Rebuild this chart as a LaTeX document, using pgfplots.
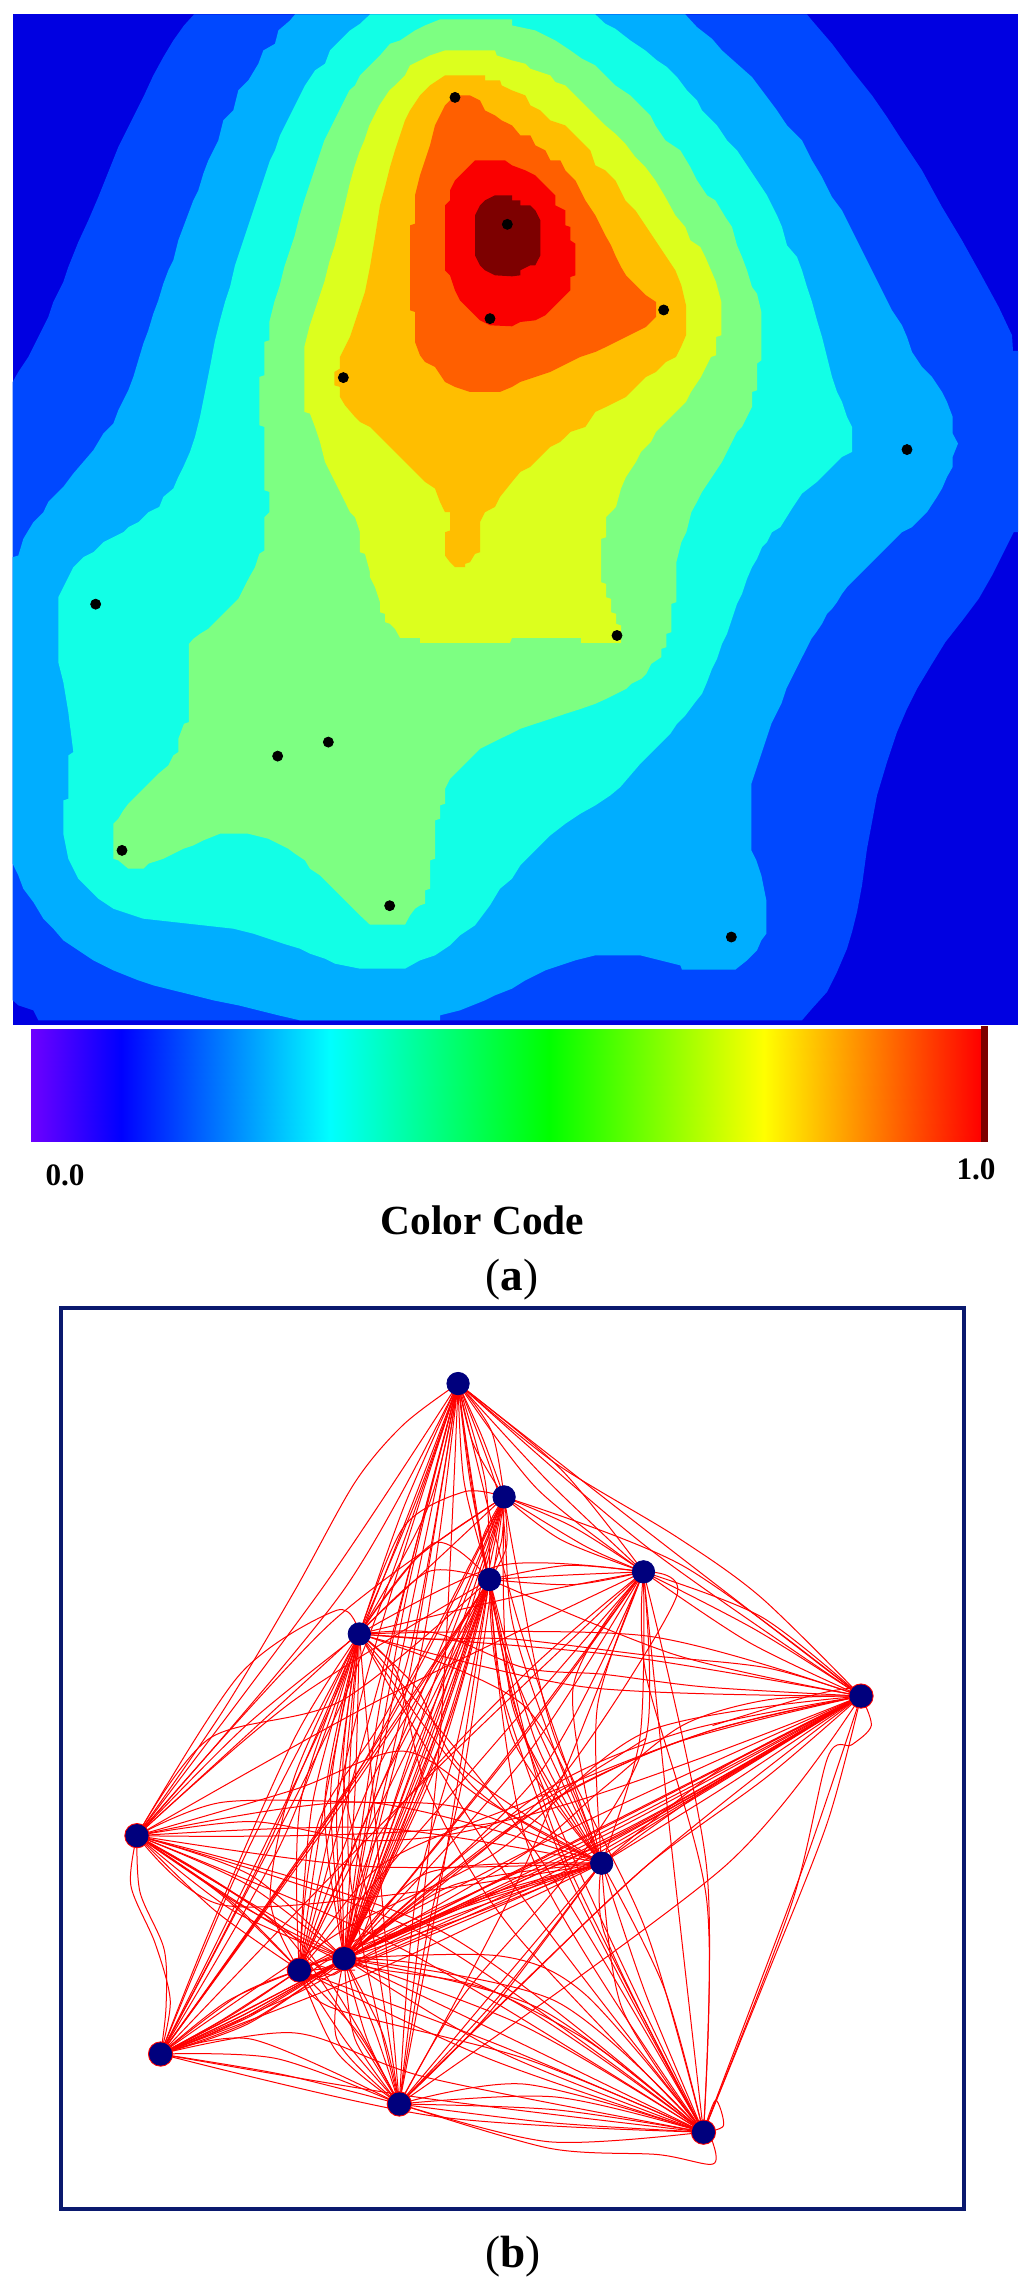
\documentclass[border=0pt]{standalone}
\usepackage{fontspec}
\setmainfont{Liberation Serif}
\usepackage{pgfplots}
\pgfplotsset{compat=1.18}
\definecolor{c0}{RGB}{0,0,225}
\definecolor{c1}{RGB}{0,72,255}
\definecolor{c2}{RGB}{0,174,255}
\definecolor{c3}{RGB}{18,255,230}
\definecolor{c4}{RGB}{125,255,130}
\definecolor{c5}{RGB}{220,255,30}
\definecolor{c6}{RGB}{255,190,0}
\definecolor{c7}{RGB}{255,95,0}
\definecolor{c8}{RGB}{250,0,0}
\definecolor{c9}{RGB}{125,0,0}
\definecolor{frame}{RGB}{10,25,110}
\definecolor{node}{RGB}{0,0,125}
\newcommand\lk[1]{\addplot[red,line width=0.5pt,smooth] coordinates {#1};}
\newcommand\lv[1]{\addplot[fill=#1,draw=none]}
\pgfplotsset{panel/.style={scale only axis,ticks=none,clip=true,enlargelimits=false}}
\begin{document}
\begin{tikzpicture}
\path[use as bounding box] (0,0) rectangle (512pt,1147pt);
% (a) contour map, one unit is a third of a pixel
\begin{axis}[panel,anchor=south west,at={(6.33pt,634.67pt)},width=502.67pt,height=505.1pt,
  xmin=38,xmax=3054,ymin=42,ymax=3074,y dir=reverse,axis line style={draw=none}]
\lv{c0} coordinates {(38,42)(3054,42)(3054,3074)(38,3074)} -- cycle;
\lv{c1} coordinates {(38,1145)(55,1115)(85,1070)(115,1010)(145,950)(160,905)(190,845)(205,800)(235,725)(265,660)(295,590)(325,515)(355,440)(385,380)(430,290)(460,225)(490,170)(520,120)(552,75)(582,42)
(2421,42)(2436,60)(2496,130)(2556,210)(2616,285)(2661,350)(2706,420)(2766,510)(2826,620)(2886,720)(2936,810)(2996,920)(3036,1005)(3039,1052)(3054,1052)
(3054,1596)(3041,1596)(3011,1656)(2976,1726)(2936,1796)(2891,1856)(2836,1926)(2796,1991)(2751,2066)(2721,2126)(2691,2196)(2661,2286)(2646,2336)(2631,2386)(2616,2466)(2601,2546)(2586,2656)(2571,2736)(2556,2796)(2541,2846)(2511,2916)(2481,2976)(2436,3026)(2406,3061)
(115,3061)(100,3031)(55,3016)(38,3001)} -- cycle;
\lv{c2} coordinates {(885,42)(870,60)(835,90)(825,130)(790,150)(775,190)(745,240)(715,270)(700,330)(670,360)(655,420)(625,480)(610,520)(595,570)(580,600)(565,640)(550,680)(535,720)(520,780)(505,810)(490,850)(475,900)(460,940)(445,990)(430,1030)(415,1080)(400,1130)(385,1170)(370,1200)(355,1230)(340,1270)(310,1300)(280,1350)(250,1385)(220,1420)(190,1460)(145,1505)
(130,1536)(100,1566)(70,1616)(55,1666)(38,1671)(38,2591)(55,2626)(70,2666)(100,2706)(130,2756)(160,2786)(190,2821)(235,2851)(280,2881)(340,2911)(415,2941)(460,2956)(520,2971)(580,2986)(640,3001)(715,3016)(775,3031)(835,3046)(900,3061)(1320,3061)(1320,3046)(1380,3031)(1455,3001)(1485,2986)
(1536,2966)(1576,2941)(1606,2926)(1636,2911)(1681,2896)(1726,2881)(1786,2866)(1921,2866)(1981,2881)(2041,2896)(2046,2909)(2206,2909)(2241,2881)(2271,2851)(2284,2821)(2299,2801)(2299,2701)(2284,2626)(2269,2581)(2254,2551)(2254,2351)(2269,2306)(2284,2261)(2299,2216)(2314,2171)(2329,2141)(2344,2111)(2359,2066)(2374,2036)(2389,2006)(2404,1976)(2419,1946)(2434,1916)(2449,1896)(2466,1871)(2481,1841)(2496,1826)(2511,1806)(2526,1781)(2541,1761)(2571,1731)(2601,1701)(2631,1671)(2661,1641)(2691,1611)(2706,1596)(2736,1581)(2766,1551)
(2781,1536)(2811,1490)(2826,1465)(2841,1430)(2858,1400)(2858,1370)(2874,1330)(2858,1300)(2858,1250)(2841,1205)(2826,1175)(2796,1130)(2766,1100)(2736,1055)(2721,1010)(2706,975)(2676,930)(2646,870)(2616,810)(2586,750)(2556,690)(2526,630)(2496,590)(2466,530)(2436,480)(2406,420)(2361,375)(2331,330)(2286,270)(2256,230)(2211,190)(2166,150)(2136,115)(2091,80)(2056,42)} -- cycle;
\lv{c3} coordinates {(1110,42)(1080,70)(1050,90)(1020,120)(990,150)(975,190)(945,210)(915,255)(900,285)(885,315)(870,345)(855,375)(840,405)(825,450)(810,480)(795,525)(780,570)(765,615)(750,660)(735,705)(720,750)(705,795)(690,860)(675,905)(660,960)(645,1020)(630,1100)(615,1175)(600,1250)(585,1310)(570,1355)(550,1400)(535,1430)(520,1465)(490,1490)(478,1520)
(445,1536)(415,1566)(385,1581)(370,1596)(340,1611)(310,1626)(295,1641)(280,1656)(250,1671)(235,1686)(220,1701)(205,1731)(190,1761)(175,1791)(175,1986)(190,2046)(205,2136)(220,2256)(205,2266)(205,2396)(190,2401)(190,2501)(205,2576)(220,2606)(235,2636)(265,2666)(295,2696)(340,2726)(385,2741)(430,2756)(565,2771)(700,2786)(760,2801)(805,2816)(850,2831)(900,2846)(930,2861)(975,2876)(1005,2891)(1080,2906)(1215,2906)(1260,2881)(1305,2866)(1350,2836)(1380,2806)(1425,2776)(1470,2716)(1500,2666)
(1536,2636)(1561,2596)(1591,2566)(1621,2536)(1651,2506)(1696,2471)(1741,2441)(1786,2416)(1831,2386)(1861,2361)(1891,2326)(1921,2291)(1951,2261)(1981,2231)(2011,2201)(2031,2171)(2056,2146)(2086,2106)(2106,2081)(2121,2046)(2136,2006)(2151,1976)(2166,1931)(2181,1901)(2196,1856)(2211,1811)(2226,1781)(2241,1736)(2256,1701)(2271,1676)(2286,1641)(2301,1626)(2316,1596)(2341,1581)
(2376,1525)(2406,1480)(2451,1445)(2496,1400)(2526,1370)(2556,1355)(2556,1280)(2541,1250)(2526,1205)(2511,1175)(2496,1130)(2481,1070)(2466,1010)(2451,960)(2436,905)(2421,860)(2406,810)(2391,770)(2361,735)(2346,680)(2331,645)(2316,615)(2301,585)(2271,540)(2241,495)(2211,450)(2181,420)(2151,375)(2106,330)(2091,300)(2061,270)(2031,230)(2001,200)(1971,180)(1936,150)(1891,120)(1846,85)(1816,70)(1786,42)} -- cycle;
\lv{c4} coordinates {(1320,57)(1536,57)(1536,75)(1606,90)(1666,120)(1711,150)(1746,175)(1786,195)(1816,225)(1846,255)(1891,285)(1921,315)(1951,345)(1966,375)(1996,420)(2041,450)(2071,500)(2091,540)(2121,585)(2146,600)(2176,650)(2196,680)(2211,735)(2226,770)(2241,810)(2256,860)(2271,880)(2284,935)(2284,1080)(2271,1090)(2271,1170)(2256,1175)(2256,1220)(2241,1250)(2226,1280)(2211,1295)(2196,1325)(2166,1385)(2136,1430)(2106,1475)(2091,1505)
(2074,1536)(2059,1596)(2044,1626)(2029,1686)(2029,1806)(2014,1811)(2014,1896)(1999,1901)(1999,1941)(1984,1946)(1984,1971)(1954,1991)(1939,2021)(1924,2036)(1894,2051)(1879,2066)(1849,2081)(1819,2096)(1786,2111)(1743,2126)(1696,2141)(1652,2156)(1606,2171)(1561,2186)(1536,2199)
(1500,2216)(1470,2231)(1440,2246)(1425,2261)(1410,2276)(1395,2291)(1380,2306)(1365,2321)(1350,2336)(1335,2366)(1335,2411)(1320,2416)(1320,2456)(1305,2461)(1305,2576)(1290,2581)(1290,2666)(1275,2671)(1275,2711)(1260,2716)(1245,2726)(1230,2746)(1215,2774)(1110,2774)(1080,2746)(1050,2716)(1020,2686)(990,2656)(960,2626)(930,2606)(915,2581)(885,2561)(865,2546)(835,2531)(805,2516)(745,2501)(660,2501)(610,2521)(580,2536)(550,2546)(520,2561)(490,2576)(445,2591)(430,2606)(385,2606)(355,2581)(340,2576)(340,2471)(355,2456)(370,2431)(385,2411)(400,2396)(430,2366)(445,2351)(475,2321)(505,2296)(520,2266)(535,2256)(535,2216)(552,2171)(567,2166)(567,1931)(580,1916)(600,1901)(625,1886)(655,1856)(685,1826)(715,1796)(730,1766)(748,1731)(765,1701)(778,1661)(793,1651)(793,1551)(808,1536)
(808,1475)(793,1470)(793,1280)(778,1275)(778,1130)(793,1125)(793,1025)(808,1020)(808,965)(823,905)(838,860)(853,800)(868,755)(883,710)(898,650)(913,600)(928,555)(943,510)(958,465)(973,420)(988,390)(1003,360)(1018,330)(1033,300)(1048,270)(1065,255)(1080,225)(1095,210)(1125,180)(1140,165)(1170,130)(1200,120)(1245,90)(1275,75)} -- cycle;
\lv{c5} coordinates {(1335,150)(1485,150)(1490,165)(1536,180)(1576,190)(1591,205)(1651,225)(1666,245)(1696,255)(1726,285)(1756,315)(1786,345)(1816,375)(1846,400)(1876,430)(1906,470)(1936,500)(1966,540)(1996,590)(2026,645)(2056,680)(2071,720)(2101,740)(2116,770)(2133,810)(2148,845)(2164,905)(2164,1005)(2148,1010)(2148,1065)(2133,1070)(2118,1100)(2103,1130)(2073,1175)(2058,1205)(2028,1235)(1998,1265)(1968,1295)(1953,1325)(1923,1355)(1908,1385)(1878,1430)(1863,1465)(1848,1520)
(1833,1536)(1818,1551)(1818,1611)(1803,1616)(1803,1746)(1818,1751)(1818,1791)(1833,1796)(1833,1836)(1848,1841)(1848,1871)(1863,1876)(1863,1928)(1743,1928)(1743,1913)(1536,1913)(1530,1928)(1260,1928)(1260,1913)(1200,1913)(1185,1886)(1170,1871)(1155,1866)(1155,1841)(1140,1836)(1140,1806)(1125,1761)(1110,1731)(1110,1716)(1095,1661)(1080,1656)(1080,1596)(1065,1551)(1050,1536)
(1035,1505)(1020,1475)(1005,1445)(990,1415)(975,1385)(960,1325)(945,1280)(930,1240)(913,1235)(913,1040)(928,980)(943,935)(958,890)(973,845)(988,785)(1003,740)(1018,680)(1033,620)(1048,555)(1063,500)(1078,455)(1093,420)(1108,375)(1123,345)(1138,315)(1168,270)(1185,255)(1215,225)(1230,195)(1260,180)(1290,165)} -- cycle;
\lv{c6} coordinates {(1335,225)(1455,225)(1455,240)(1500,240)(1505,255)(1536,270)(1576,285)(1591,315)(1621,330)(1651,360)(1696,375)(1711,390)(1741,420)(1771,450)(1786,495)(1816,510)(1846,540)(1861,570)(1876,600)(1906,630)(1936,675)(1966,720)(1996,765)(2026,810)(2044,855)(2058,915)(2058,1005)(2043,1040)(2028,1070)(1998,1085)(1968,1115)(1938,1130)(1908,1160)(1878,1190)(1848,1205)(1818,1220)(1786,1235)(1756,1280)(1711,1295)(1681,1325)(1651,1340)(1621,1370)(1591,1400)(1561,1415)(1536,1445)(1500,1490)(1485,1520)
(1455,1536)(1440,1566)(1440,1656)(1425,1661)(1410,1686)(1395,1691)(1395,1701)(1365,1701)(1350,1686)(1335,1666)(1335,1596)(1350,1591)(1350,1536)
(1335,1536)(1320,1505)(1305,1465)(1275,1445)(1245,1415)(1215,1385)(1185,1355)(1155,1325)(1125,1295)(1110,1280)(1080,1265)(1065,1250)(1035,1215)(1020,1190)(1020,1160)(1003,1155)(1003,1115)(1020,1105)(1020,1070)(1035,1040)(1050,1010)(1065,965)(1080,920)(1095,875)(1110,800)(1125,710)(1140,615)(1155,560)(1170,500)(1185,450)(1200,405)(1215,360)(1230,330)(1260,285)(1290,255)} -- cycle;
\lv{c7} coordinates {(1365,285)(1410,285)(1440,300)(1455,330)(1485,345)(1505,360)(1536,375)(1561,405)(1591,405)(1606,435)(1636,450)(1651,480)(1681,480)(1696,510)(1726,540)(1741,570)(1756,600)(1786,645)(1801,675)(1816,705)(1833,735)(1848,770)(1863,800)(1878,825)(1908,855)(1938,885)(1968,905)(1968,950)(1938,980)(1908,995)(1878,1010)(1848,1025)(1818,1040)(1786,1055)(1741,1070)(1711,1085)(1681,1100)(1651,1115)(1606,1130)(1561,1145)(1536,1160)(1500,1175)(1410,1175)(1365,1160)(1335,1145)(1305,1100)(1275,1085)(1260,1065)(1245,1025)(1245,935)(1230,930)(1230,675)(1245,670)(1245,585)(1260,525)(1275,480)(1290,435)(1305,375)(1320,345)(1335,315)} -- cycle;
\lv{c8} coordinates {(1425,480)(1515,480)(1536,495)(1576,510)(1606,525)(1636,555)(1666,585)(1666,615)(1696,630)(1696,675)(1711,680)(1711,720)(1726,730)(1726,825)(1711,830)(1711,870)(1696,885)(1666,915)(1636,945)(1606,960)(1561,965)(1536,978)(1470,975)(1440,960)(1410,930)(1380,900)(1365,870)(1350,825)(1335,810)(1335,615)(1350,600)(1350,570)(1365,540)(1395,510)} -- cycle;
\lv{c9} coordinates {(1485,585)(1536,585)(1536,600)(1561,600)(1561,615)(1591,615)(1606,630)(1621,660)(1621,765)(1606,795)(1591,795)(1561,810)(1561,825)(1536,828)(1485,825)(1455,810)(1440,795)(1425,765)(1425,645)(1440,615)(1455,600)} -- cycle;
\addplot[only marks,mark=*,mark size=2.5pt,black] coordinates {(1365,291)(1470,955)(1030,1132)(1522,672)(1991,929)(2721,1348)(287,1812)(833,2268)(985,2226)(366,2551)(1169,2717)(1851,1906)(2194,2811)};
\end{axis}
% colour scale
\begin{axis}[panel,anchor=south west,at={(15.35pt,576pt)},width=478.65pt,height=56.5pt,
  xmin=47,xmax=1513,ymin=0,ymax=1,axis line style={draw=none},clip=false,
  colormap={ccode}{rgb255=(110,0,255) rgb255=(0,0,255) rgb255=(0,255,255) rgb255=(0,255,0) rgb255=(255,255,0) rgb255=(255,0,0)},
  point meta min=0,point meta max=5]
\addplot[surf,shader=interp,mesh/rows=2,point meta=\thisrow{c}] table {
x y c
47 0 0
185 0 1
505 0 2
840 0 3
1170 0 4
1503 0 5
47 1 0
185 1 1
505 1 2
840 1 3
1170 1 4
1503 1 5
};
\addplot[fill=c9,draw=none] coordinates {(1503,0)(1513,0)(1513,1.03)(1503,1.03)} -- cycle;
\end{axis}
\node[font=\bfseries\fontsize{15.6}{16}\selectfont] at (32.5pt,559.5pt) {0.0};
\node[font=\bfseries\fontsize{15.6}{16}\selectfont] at (488pt,562.5pt) {1.0};
\node[font=\bfseries\fontsize{20.7}{22}\selectfont] at (241.3pt,537pt) {Color Code};
\node[font=\fontsize{22.6}{24}\selectfont] at (256pt,507pt) {(\textbf{a})};
\node[font=\fontsize{22.6}{24}\selectfont] at (256.5pt,18.5pt) {(\textbf{b})};
% (b) trajectories
\begin{axis}[panel,anchor=south west,at={(30.6pt,42.5pt)},width=451.4pt,height=450.5pt,
  xmin=35,xmax=1525,ymin=28,ymax=1435,y dir=reverse,
  axis line style={draw=frame,line width=2pt}]
\lk{(690,146)(600,210)(520,300)(420,470)(300,660)(160,852)}
\lk{(690,146)(470,460)(160,852)}
\lk{(690,146)(500,470)(160,852)}
\lk{(690,146)(620,330)(527,537)}
\lk{(690,146)(600,340)(527,537)}
\lk{(690,146)(640,340)(527,537)}
\lk{(690,146)(600,500)(502,1044)}
\lk{(690,146)(590,600)(502,1044)}
\lk{(690,146)(610,600)(502,1044)}
\lk{(690,146)(570,600)(502,1044)}
\lk{(690,146)(630,560)(502,1044)}
\lk{(690,146)(575,560)(428,1062)}
\lk{(690,146)(540,600)(428,1062)}
\lk{(690,146)(480,650)(199,1193)}
\lk{(690,146)(500,640)(199,1193)}
\lk{(690,146)(730,230)(766,323)}
\lk{(690,146)(745,220)(766,323)}
\lk{(690,146)(715,240)(766,323)}
\lk{(690,146)(710,300)(742,452)}
\lk{(690,146)(735,300)(742,452)}
\lk{(690,146)(700,300)(742,452)}
\lk{(690,146)(840,300)(996,440)}
\lk{(690,146)(860,280)(996,440)}
\lk{(690,146)(820,310)(996,440)}
\lk{(690,146)(850,270)(1050,385)(1190,480)(1355,634)}
\lk{(690,146)(1020,390)(1355,634)}
\lk{(690,146)(1000,400)(1355,634)}
\lk{(690,146)(790,520)(927,895)}
\lk{(690,146)(760,540)(927,895)}
\lk{(690,146)(800,700)(1095,1315)}
\lk{(690,146)(660,700)(593,1271)}
\lk{(527,537)(600,370)(700,315)(766,323)}
\lk{(766,323)(620,420)(527,537)}
\lk{(766,323)(880,370)(996,440)}
\lk{(766,323)(900,400)(996,440)}
\lk{(766,323)(860,390)(996,440)}
\lk{(766,323)(770,400)(742,452)}
\lk{(766,323)(730,390)(742,452)}
\lk{(766,323)(762,390)(742,452)}
\lk{(766,323)(660,650)(502,1044)}
\lk{(766,323)(670,650)(502,1044)}
\lk{(766,323)(650,650)(502,1044)}
\lk{(766,323)(640,640)(502,1044)}
\lk{(766,323)(680,660)(502,1044)}
\lk{(766,323)(620,650)(428,1062)}
\lk{(766,323)(480,520)(160,852)}
\lk{(766,323)(520,540)(160,852)}
\lk{(766,323)(1060,430)(1355,634)}
\lk{(766,323)(780,650)(927,895)}
\lk{(766,323)(560,700)(199,1193)}
\lk{(766,323)(520,760)(199,1193)}
\lk{(742,452)(640,440)(527,537)}
\lk{(742,452)(650,395)(527,537)}
\lk{(742,452)(870,445)(996,440)}
\lk{(742,452)(870,430)(996,440)}
\lk{(742,452)(880,460)(996,440)}
\lk{(742,452)(625,750)(502,1044)}
\lk{(742,452)(635,750)(502,1044)}
\lk{(742,452)(615,750)(502,1044)}
\lk{(742,452)(645,750)(502,1044)}
\lk{(742,452)(605,750)(502,1044)}
\lk{(742,452)(655,740)(502,1044)}
\lk{(742,452)(625,770)(520,1040)}
\lk{(742,452)(590,750)(428,1062)}
\lk{(742,452)(570,760)(428,1062)}
\lk{(742,452)(550,760)(428,1062)}
\lk{(742,452)(480,820)(199,1193)}
\lk{(742,452)(500,800)(199,1193)}
\lk{(742,452)(670,880)(593,1271)}
\lk{(742,452)(780,700)(927,895)}
\lk{(742,452)(820,710)(927,895)}
\lk{(742,452)(850,850)(1095,1315)}
\lk{(742,452)(810,880)(1095,1315)}
\lk{(742,452)(420,640)(160,852)}
\lk{(742,452)(1050,570)(1355,634)}
\lk{(996,440)(760,430)(527,537)}
\lk{(996,440)(780,480)(527,537)}
\lk{(996,440)(1180,530)(1355,634)}
\lk{(996,440)(1190,510)(1355,634)}
\lk{(996,440)(1170,550)(1355,634)}
\lk{(996,440)(990,700)(927,895)}
\lk{(996,440)(920,650)(927,895)}
\lk{(996,440)(880,620)(927,895)}
\lk{(996,440)(780,720)(502,1044)}
\lk{(996,440)(800,730)(502,1044)}
\lk{(996,440)(760,740)(502,1044)}
\lk{(996,440)(820,760)(502,1044)}
\lk{(996,440)(740,720)(428,1062)}
\lk{(996,440)(1100,900)(1095,1315)}
\lk{(996,440)(1040,850)(1095,1315)}
\lk{(996,440)(620,780)(199,1193)}
\lk{(996,440)(560,640)(160,852)}
\lk{(996,440)(800,900)(593,1271)}
\lk{(527,537)(950,570)(1355,634)}
\lk{(527,537)(900,620)(1355,634)}
\lk{(527,537)(1000,540)(1355,634)}
\lk{(527,537)(800,650)(927,895)}
\lk{(527,537)(720,780)(927,895)}
\lk{(160,852)(330,600)(490,500)(527,537)}
\lk{(160,852)(340,680)(527,537)}
\lk{(527,537)(490,800)(502,1044)}
\lk{(527,537)(500,800)(502,1044)}
\lk{(527,537)(470,800)(502,1044)}
\lk{(527,537)(520,780)(502,1044)}
\lk{(527,537)(480,780)(502,1044)}
\lk{(527,537)(450,800)(428,1062)}
\lk{(527,537)(470,800)(428,1062)}
\lk{(527,537)(430,800)(428,1062)}
\lk{(527,537)(340,880)(199,1193)}
\lk{(527,537)(370,880)(199,1193)}
\lk{(527,537)(400,860)(199,1193)}
\lk{(527,537)(510,900)(593,1271)}
\lk{(527,537)(560,900)(593,1271)}
\lk{(527,537)(760,900)(1095,1315)}
\lk{(527,537)(820,880)(1095,1315)}
\lk{(1355,634)(1130,760)(927,895)}
\lk{(1355,634)(1140,770)(927,895)}
\lk{(1355,634)(1120,750)(927,895)}
\lk{(1355,634)(950,830)(502,1044)}
\lk{(1355,634)(945,845)(502,1044)}
\lk{(1355,634)(960,850)(502,1044)}
\lk{(1355,634)(935,860)(502,1044)}
\lk{(1355,634)(970,840)(502,1044)}
\lk{(1355,634)(1100,690)(840,800)(502,1044)}
\lk{(1355,634)(1060,690)(820,790)(502,1044)}
\lk{(1355,634)(1040,710)(790,830)(502,1044)}
\lk{(1355,634)(900,830)(428,1062)}
\lk{(1355,634)(900,860)(428,1062)}
\lk{(1355,634)(760,830)(160,852)}
\lk{(1355,634)(800,900)(199,1193)}
\lk{(1355,634)(1000,900)(593,1271)}
\lk{(1355,634)(1130,900)(593,1271)}
\lk{(1355,634)(1300,830)(1200,1070)(1095,1315)}
\lk{(1355,634)(1260,900)(1095,1315)}
\lk{(1355,634)(1372,680)(1340,710)(1300,730)(1240,960)(1095,1315)}
\lk{(160,852)(540,800)(927,895)}
\lk{(160,852)(560,840)(927,895)}
\lk{(160,852)(540,900)(927,895)}
\lk{(160,852)(330,960)(502,1044)}
\lk{(160,852)(335,950)(502,1044)}
\lk{(160,852)(320,970)(502,1044)}
\lk{(160,852)(345,930)(502,1044)}
\lk{(160,852)(350,915)(502,1044)}
\lk{(160,852)(310,950)(428,1062)}
\lk{(160,852)(290,970)(428,1062)}
\lk{(160,852)(300,945)(428,1062)}
\lk{(160,852)(150,930)(190,1020)(215,1110)(199,1193)}
\lk{(160,852)(165,940)(205,1030)(208,1120)(199,1193)}
\lk{(160,852)(400,1000)(593,1271)}
\lk{(160,852)(430,1020)(593,1271)}
\lk{(160,852)(620,1000)(1095,1315)}
\lk{(160,852)(600,1030)(1095,1315)}
\lk{(160,852)(660,1000)(1095,1315)}
\lk{(927,895)(700,960)(502,1044)}
\lk{(927,895)(720,950)(502,1044)}
\lk{(927,895)(700,980)(502,1044)}
\lk{(927,895)(680,930)(502,1044)}
\lk{(927,895)(640,910)(502,1044)}
\lk{(927,895)(680,970)(428,1062)}
\lk{(927,895)(560,1060)(199,1193)}
\lk{(927,895)(760,1100)(593,1271)}
\lk{(927,895)(780,1060)(593,1271)}
\lk{(927,895)(740,1130)(593,1271)}
\lk{(927,895)(1000,1100)(1095,1315)}
\lk{(927,895)(960,1120)(1095,1315)}
\lk{(927,895)(1030,1090)(1095,1315)}
\lk{(502,1044)(465,1048)(428,1062)}
\lk{(502,1044)(465,1060)(428,1062)}
\lk{(502,1044)(465,1072)(428,1062)}
\lk{(502,1044)(340,1130)(199,1193)}
\lk{(502,1044)(350,1125)(199,1193)}
\lk{(502,1044)(330,1140)(199,1193)}
\lk{(502,1044)(360,1115)(199,1193)}
\lk{(502,1044)(345,1145)(199,1193)}
\lk{(428,1062)(310,1110)(199,1193)}
\lk{(428,1062)(320,1130)(199,1193)}
\lk{(428,1062)(300,1140)(199,1193)}
\lk{(428,1062)(330,1100)(199,1193)}
\lk{(502,1044)(540,1170)(593,1271)}
\lk{(502,1044)(565,1160)(593,1271)}
\lk{(502,1044)(520,1170)(593,1271)}
\lk{(502,1044)(550,1150)(593,1271)}
\lk{(502,1044)(490,1170)(593,1271)}
\lk{(428,1062)(510,1180)(593,1271)}
\lk{(428,1062)(525,1160)(593,1271)}
\lk{(428,1062)(490,1190)(593,1271)}
\lk{(502,1044)(800,1150)(1095,1315)}
\lk{(502,1044)(820,1120)(1095,1315)}
\lk{(502,1044)(780,1170)(1095,1315)}
\lk{(502,1044)(760,1190)(1095,1315)}
\lk{(502,1044)(850,1110)(1095,1315)}
\lk{(428,1062)(760,1180)(1095,1315)}
\lk{(428,1062)(740,1200)(1095,1315)}
\lk{(199,1193)(350,1170)(593,1271)}
\lk{(199,1193)(400,1225)(593,1271)}
\lk{(199,1193)(390,1200)(593,1271)}
\lk{(199,1193)(650,1290)(1095,1315)}
\lk{(199,1193)(620,1260)(1095,1315)}
\lk{(199,1193)(420,1160)(640,1230)(1095,1315)}
\lk{(593,1271)(840,1300)(1095,1315)}
\lk{(593,1271)(850,1260)(1095,1315)}
\lk{(593,1271)(850,1280)(1095,1315)}
\lk{(593,1271)(840,1330)(1095,1315)}
\lk{(593,1271)(800,1240)(1095,1315)}
\lk{(593,1271)(840,1340)(1020,1350)(1110,1365)(1110,1330)(1095,1315)}
\lk{(1095,1315)(1128,1305)(1115,1265)(1095,1315)}
% more bent ones
\lk{(527,537)(650,535)(800,590)(930,600)(1100,620)(1355,634)}
\lk{(527,537)(640,545)(780,545)(1000,570)(1200,590)(1355,634)}
\lk{(742,452)(780,640)(840,780)(927,895)}
\lk{(996,440)(1000,600)(1100,950)(1095,1315)}
\lk{(502,1044)(560,850)(800,600)(996,440)}
\lk{(527,537)(620,620)(700,750)(927,895)}
\lk{(160,852)(300,800)(540,800)(700,810)(927,895)}
\lk{(160,852)(280,700)(500,640)(742,452)}
\lk{(160,852)(350,830)(550,860)(760,830)(1000,700)}
\lk{(199,1193)(280,1000)(420,700)(527,537)}
\lk{(927,895)(930,1000)(1030,1200)(1095,1315)}
\lk{(428,1062)(560,900)(800,800)(1100,690)(1355,634)}
\lk{(502,1044)(700,900)(870,750)(1050,480)(996,440)}
\lk{(527,537)(590,600)(640,780)(780,1000)(1095,1315)}
\lk{(766,323)(790,450)(850,700)(1000,1000)(1095,1315)}
\lk{(742,452)(760,620)(880,930)(1095,1315)}
\lk{(690,146)(760,330)(780,520)(850,720)(927,895)}
\lk{(199,1193)(500,1000)(750,880)(1000,690)(1355,634)}
\lk{(593,1271)(700,1100)(880,900)(1000,700)(996,440)}
\lk{(593,1271)(800,1080)(1000,900)(1200,760)(1355,634)}
\lk{(593,1271)(640,1000)(700,750)(766,323)}
\lk{(593,1271)(620,950)(690,700)(742,452)}
\lk{(593,1271)(540,950)(500,750)(527,537)}
\lk{(428,1062)(380,950)(420,760)(527,537)}
\lk{(428,1062)(460,830)(600,600)(690,146)}
\lk{(160,852)(300,960)(620,940)(927,895)}
\lk{(160,852)(420,780)(600,720)(740,800)(927,895)}
\lk{(502,1044)(760,1040)(900,1100)(1095,1315)}
\lk{(502,1044)(660,1060)(900,1170)(1095,1315)}
\lk{(428,1062)(480,1120)(800,1200)(1095,1315)}
\lk{(160,852)(480,1040)(760,1100)(1095,1315)}
\lk{(199,1193)(420,1100)(620,1000)(927,895)}
\lk{(199,1193)(350,1140)(502,1044)}
\lk{(199,1193)(345,1135)(502,1044)}
\lk{(445,1050)(480,1060)(520,1062)}
\lk{(440,1070)(480,1045)(520,1052)}
\lk{(520,1045)(480,1070)(440,1040)}
\lk{(1355,634)(1100,780)(840,920)(502,1060)}
\lk{(1355,634)(1095,785)(845,925)(502,1062)}
\lk{(1355,634)(1105,775)(835,915)(502,1056)}
\lk{(1355,634)(1200,640)(1060,680)(927,780)(800,880)(502,1044)}
\lk{(1355,634)(1340,622)(1270,634)(1110,680)}
\addplot[only marks,mark=*,mark size=6.1pt,red,mark options={draw=red}] coordinates {(1355,634)(160,852)(199,1193)(428,1062)(502,1044)(593,1271)(1095,1315)};
\addplot[only marks,mark=*,mark size=5.6pt,node,mark options={draw=node}] coordinates {(690,146)(766,323)(742,452)(996,440)(527,537)(1355,634)(160,852)(927,895)(502,1044)(428,1062)(199,1193)(593,1271)(1095,1315)};
\end{axis}
\end{tikzpicture}
\end{document}
